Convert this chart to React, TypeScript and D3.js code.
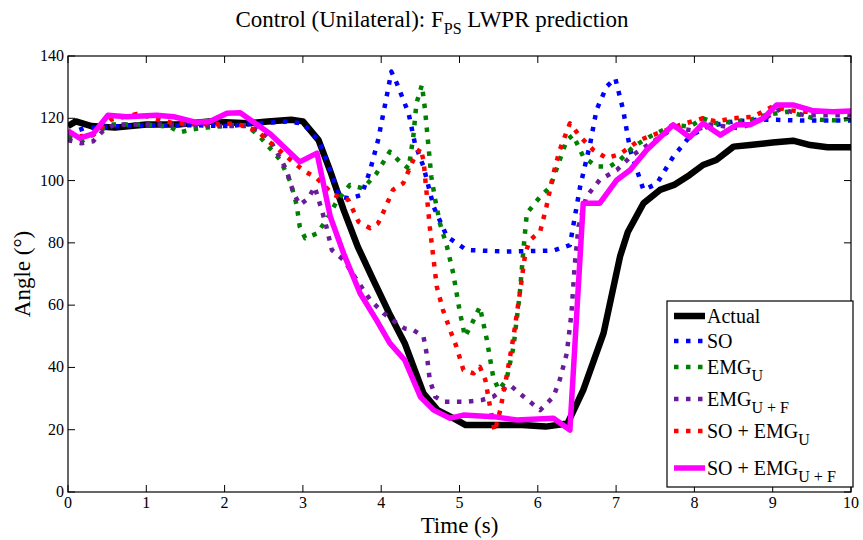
import React from "react";
import * as d3 from "d3";

const xTicks = [0, 1, 2, 3, 4, 5, 6, 7, 8, 9, 10];
const yTicks = [0, 20, 40, 60, 80, 100, 120, 140];

const actualT = [0, 0.1, 0.3, 0.6, 1.0, 1.4, 1.8, 2.3, 2.55, 2.85, 3.0, 3.2, 3.35, 3.52, 3.7, 3.9, 4.1, 4.3, 4.54, 4.72, 4.92, 5.08, 5.4, 5.8, 6.1, 6.38, 6.58, 6.84, 7.05, 7.15, 7.35, 7.56, 7.74, 7.94, 8.11, 8.28, 8.5, 8.71, 9.0, 9.26, 9.48, 9.7, 10];
const actualV = [117.5, 119, 117.5, 117, 118, 118, 119, 118.4, 119, 119.5, 119, 113, 103, 90.6, 78.8, 68, 57.5, 47.8, 31.7, 26.3, 23.7, 21.5, 21.5, 21.5, 21, 22, 32.7, 51, 75.6, 83.5, 92.7, 97, 98.6, 101.8, 105, 106.6, 110.9, 111.4, 112.2, 112.8, 111.4, 110.7, 110.7];

const soT = [0, 0.2, 0.49, 1.0, 1.6, 2.03, 2.45, 2.79, 3.0, 3.2, 3.35, 3.47, 3.6, 3.75, 3.86, 3.96, 4.07, 4.13, 4.2, 4.35, 4.43, 4.54, 4.67, 4.84, 5.09, 5.6, 6.2, 6.41, 6.54, 6.67, 6.75, 6.88, 6.99, 7.09, 7.18, 7.35, 7.52, 7.73, 7.94, 8.16, 8.5, 8.79, 9.05, 9.35, 9.77, 10];
const soV = [115, 116.8, 117.3, 117.8, 117.8, 117.5, 118.4, 119, 118.3, 113, 103.4, 94.8, 94.3, 95.4, 103.4, 113, 127, 135, 131.2, 121.6, 112, 104.5, 91.6, 82, 77.7, 77.2, 77.5, 79.3, 98, 112, 122.7, 130.2, 132.8, 122.7, 109.8, 97, 99, 107.7, 114.1, 117.3, 119, 119.5, 119.5, 119.3, 119.3, 119.3];

const emgUT = [0, 0.2, 0.4, 0.55, 1.0, 1.3, 1.43, 1.6, 1.77, 2.11, 2.28, 2.45, 2.58, 2.71, 2.84, 2.92, 2.96, 3.03, 3.18, 3.3, 3.43, 3.6, 3.77, 3.94, 4.11, 4.24, 4.35, 4.41, 4.45, 4.52, 4.56, 4.6, 4.64, 4.69, 4.75, 4.84, 4.92, 5.0, 5.07, 5.15, 5.26, 5.35, 5.43, 5.5, 5.6, 5.69, 5.77, 5.82, 5.86, 6.03, 6.16, 6.28, 6.37, 6.45, 6.58, 6.75, 6.92, 7.05, 7.22, 7.43, 7.73, 7.94, 8.11, 8.28, 8.5, 8.71, 8.92, 9.18, 9.35, 9.6, 9.85, 10];
const emgUV = [114, 113, 116, 118, 118, 117.3, 115.5, 116.5, 117, 117.8, 117.8, 114.1, 110.4, 106.6, 99.6, 92.2, 85.2, 81.5, 83, 87.3, 93.2, 98.6, 97.5, 102.3, 109.3, 106, 103.9, 114.1, 124.8, 130.7, 122.7, 112, 101.3, 93.8, 86.3, 78.8, 70.2, 58.4, 49.9, 53.6, 59.5, 48.8, 37, 32.8, 36, 46.7, 63.8, 78.8, 89.5, 94.8, 98, 106.6, 113, 114.6, 107.7, 104.5, 104.5, 106.6, 110.9, 114.1, 117.9, 117.3, 120, 118.4, 119, 119.5, 121.1, 122.1, 121.1, 119.5, 119.3, 120];

const emgUFT = [0, 0.17, 0.32, 0.45, 0.6, 1.0, 1.5, 2.0, 2.3, 2.45, 2.58, 2.71, 2.79, 2.88, 2.96, 3.07, 3.15, 3.24, 3.3, 3.37, 3.52, 3.69, 3.86, 4.03, 4.2, 4.3, 4.41, 4.54, 4.58, 4.62, 4.69, 4.79, 5.09, 5.28, 5.43, 5.64, 5.82, 6.03, 6.2, 6.28, 6.37, 6.43, 6.47, 6.52, 6.62, 6.79, 7.01, 7.2, 7.5, 7.75, 8.0, 8.2, 8.58, 8.9, 9.1, 9.4, 10];
const emgUFV = [113, 112, 112.6, 116, 118, 118, 118, 117.5, 117.5, 116, 113, 107.2, 103.4, 96, 92.2, 94.3, 98, 90.6, 85.2, 77.7, 74.5, 68, 61.7, 57.4, 54.2, 52.5, 52, 49.9, 44.5, 36, 30.6, 29, 29, 29.5, 30.6, 34.4, 30.6, 26.3, 30.6, 36, 44.5, 57.4, 72.4, 85.2, 94.8, 100.2, 103.4, 108, 113, 117, 116, 118, 116.8, 120, 123, 121, 121];

const soEmgUT = [0, 0.15, 0.32, 0.54, 0.88, 1.35, 1.98, 2.11, 2.28, 2.43, 2.54, 2.67, 2.79, 2.92, 3.05, 3.18, 3.39, 3.58, 3.71, 3.86, 3.96, 4.03, 4.15, 4.28, 4.41, 4.5, 4.54, 4.58, 4.62, 4.67, 4.71, 4.79, 4.88, 4.96, 5.05, 5.18, 5.26, 5.33, 5.39, 5.45, 5.52, 5.6, 5.69, 5.77, 5.84, 5.9, 6.03, 6.11, 6.2, 6.28, 6.41, 6.54, 6.71, 6.88, 7.05, 7.3, 7.47, 7.82, 8.11, 8.28, 8.5, 8.75, 9.0, 9.18, 9.39, 9.69, 10];
const soEmgUV = [115.7, 114.2, 114.6, 119.5, 121.4, 118.4, 118, 118.4, 117.3, 115.7, 113, 110.4, 107.7, 105, 102.6, 100.7, 95.4, 93.8, 86.8, 84.7, 86.3, 90, 97, 99.1, 106.6, 110.4, 106.6, 96, 85.2, 74.5, 65.9, 58.4, 52, 46.7, 39.2, 38.1, 40.2, 36, 27.4, 19.4, 26.3, 37, 49.9, 63.8, 76.6, 80.9, 83.6, 91.6, 102.3, 109.8, 118.4, 114.1, 109.8, 107.2, 108.5, 113, 114.6, 117.9, 120, 119, 120, 120.5, 123.8, 122.7, 122.1, 122.1, 122.3];

const soEmgUFT = [0, 0.15, 0.32, 0.51, 0.75, 1.13, 1.35, 1.64, 1.81, 2.03, 2.2, 2.58, 2.96, 3.18, 3.35, 3.52, 3.73, 3.94, 4.11, 4.3, 4.5, 4.67, 4.88, 5.05, 5.43, 5.73, 6.2, 6.41, 6.58, 6.79, 7.01, 7.18, 7.39, 7.73, 7.94, 8.11, 8.33, 8.54, 8.71, 8.88, 9.05, 9.26, 9.52, 9.77, 10];
const soEmgUFV = [116, 113.6, 115, 121, 120.5, 121, 120.5, 118.7, 119, 121.6, 121.8, 115, 106, 108.8, 88.4, 76.6, 63.8, 55.2, 47.8, 42.4, 30.6, 26.3, 23.7, 24.7, 24.2, 23.1, 23.7, 19.9, 92.7, 92.7, 100.2, 103.4, 109.8, 117.9, 113.9, 118.4, 114.6, 117.9, 117.9, 120, 124.3, 124.3, 122.4, 122.1, 122.3];

type Series = { key: string; t: number[]; v: number[]; color: string; width: number; dash?: string; main: string; sub?: string };

const DOT = "4.5,7.5";
const series: Series[] = [
  { key: "actual", t: actualT, v: actualV, color: "#000000", width: 6.5, main: "Actual" },
  { key: "so", t: soT, v: soV, color: "#0000ff", width: 4.5, dash: DOT, main: "SO" },
  { key: "emgu", t: emgUT, v: emgUV, color: "#008000", width: 4.5, dash: DOT, main: "EMG", sub: "U" },
  { key: "emguf", t: emgUFT, v: emgUFV, color: "#6a1b9a", width: 4.5, dash: DOT, main: "EMG", sub: "U + F" },
  { key: "soemgu", t: soEmgUT, v: soEmgUV, color: "#ff0000", width: 4.5, dash: DOT, main: "SO + EMG", sub: "U" },
  { key: "soemguf", t: soEmgUFT, v: soEmgUFV, color: "#ff00ff", width: 5.5, main: "SO + EMG", sub: "U + F" },
];

const W = 863, H = 540;
const L = 68, R = 851, T = 56, B = 492;
const FONT = "'Liberation Serif', 'Times New Roman', Times, serif";

export default function App() {
  const x = d3.scaleLinear().domain([0, 10]).range([L, R]);
  const y = d3.scaleLinear().domain([0, 140]).range([B, T]);
  const line = d3.line<[number, number]>().x((d) => x(d[0])).y((d) => y(d[1]));
  const legendY = [323, 348, 374, 406, 438, 475];

  return (
    <svg width={W} height={H} style={{ position: "absolute", left: 0, top: 0, background: "#fff" }} fontFamily={FONT}>
      <rect x={0} y={0} width={W} height={H} fill="#fff" />
      <defs>
        <clipPath id="plot">
          <rect x={L} y={T} width={R - L} height={B - T} />
        </clipPath>
      </defs>
      <text x={432} y={27} textAnchor="middle" fontSize={23}>
        Control (Unilateral): F<tspan dy={7} fontSize={16}>PS</tspan>
        <tspan dy={-7}> LWPR prediction</tspan>
      </text>
      <g clipPath="url(#plot)">
        {series.map((s) => (
          <path
            key={s.key}
            d={line(s.t.map((t, i) => [t, s.v[i]] as [number, number])) || ""}
            fill="none"
            stroke={s.color}
            strokeWidth={s.width}
            strokeDasharray={s.dash}
            strokeLinejoin="round"
          />
        ))}
      </g>
      <rect x={L} y={T} width={R - L} height={B - T} fill="none" stroke="#000" strokeWidth={1.2} />
      {xTicks.map((t) => (
        <g key={"x" + t}>
          <line x1={x(t)} x2={x(t)} y1={B} y2={B - 7} stroke="#000" />
          <line x1={x(t)} x2={x(t)} y1={T} y2={T + 7} stroke="#000" />
          <text x={x(t)} y={B + 16} textAnchor="middle" fontSize={16}>{t}</text>
        </g>
      ))}
      {yTicks.map((v) => (
        <g key={"y" + v}>
          <line x1={L} x2={L + 7} y1={y(v)} y2={y(v)} stroke="#000" />
          <line x1={R} x2={R - 7} y1={y(v)} y2={y(v)} stroke="#000" />
          <text x={L - 4} y={y(v) + 5} textAnchor="end" fontSize={16}>{v}</text>
        </g>
      ))}
      <text x={(L + R) / 2} y={533} textAnchor="middle" fontSize={23}>Time (s)</text>
      <text transform={`translate(30,${(T + B) / 2}) rotate(-90)`} textAnchor="middle" fontSize={23}>Angle (°)</text>
      <rect x={667} y={301} width={186} height={186} fill="#fff" stroke="#000" strokeWidth={1.2} />
      {series.map((s, i) => (
        <g key={"lg" + s.key}>
          <line
            x1={674}
            x2={705}
            y1={legendY[i] - 7}
            y2={legendY[i] - 7}
            stroke={s.color}
            strokeWidth={s.width}
            strokeDasharray={s.dash}
          />
          <text x={707} y={legendY[i]} fontSize={20}>
            {s.main}
            {s.sub && <tspan dy={7} fontSize={16}>{s.sub}</tspan>}
          </text>
        </g>
      ))}
    </svg>
  );
}
